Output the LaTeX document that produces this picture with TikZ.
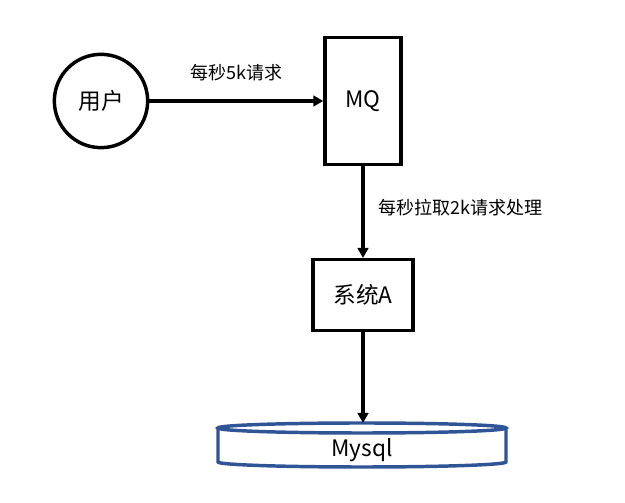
\documentclass[tikz,border=0pt]{standalone}
\usepackage{fontspec}
\setmainfont{Noto Sans CJK SC}
\usepackage{tikz}
\usepackage{xcolor}
\usetikzlibrary{arrows.meta}
\definecolor{dbblue}{HTML}{2F5597}

\tikzset{
  box/.style={draw, line width=2.6pt, inner sep=0pt},
  flow/.style={line width=2.6pt, -{Triangle[length=7.5pt,width=8pt]}},
  db/.style={draw=dbblue, line width=2.6pt},
  big/.style={font=\fontsize{17}{20}\selectfont},
  small/.style={font=\fontsize{13.5}{16}\selectfont},
}

\begin{document}
\begin{tikzpicture}[x=0.75pt,y=0.75pt]
        \useasboundingbox (0,0) rectangle (625,503);
        \node[box, circle, minimum size=70pt, big] (user) at (101,402) {用户};
        \node[box, minimum width=57pt, minimum height=95pt, big] (mq) at (363,402) {MQ};
        \node[box, minimum width=75pt, minimum height=53pt, big] (sysa) at (363,208) {系统A};
        % database
        \draw[db] (362,75) ellipse (108pt and 3.75pt);
        \draw[db] (218,75) -- (218,41) arc[start angle=180, end angle=360, x radius=108pt, y radius=3.75pt] -- (506,75);
        \node[big] (mysql) at (362,53) {Mysql};
        \coordinate (dbtop) at (363,80);
        \draw[flow] (user) -- (mq) node[midway, yshift=21pt, small] {每秒5k请求};
        \draw[flow] (mq) -- (sysa) node[midway, anchor=west, inner sep=0pt, xshift=10.5pt, yshift=3.4pt, small] {每秒拉取2k请求处理};
        \draw[flow] (sysa) -- (dbtop);
    \end{tikzpicture}
\end{document}
